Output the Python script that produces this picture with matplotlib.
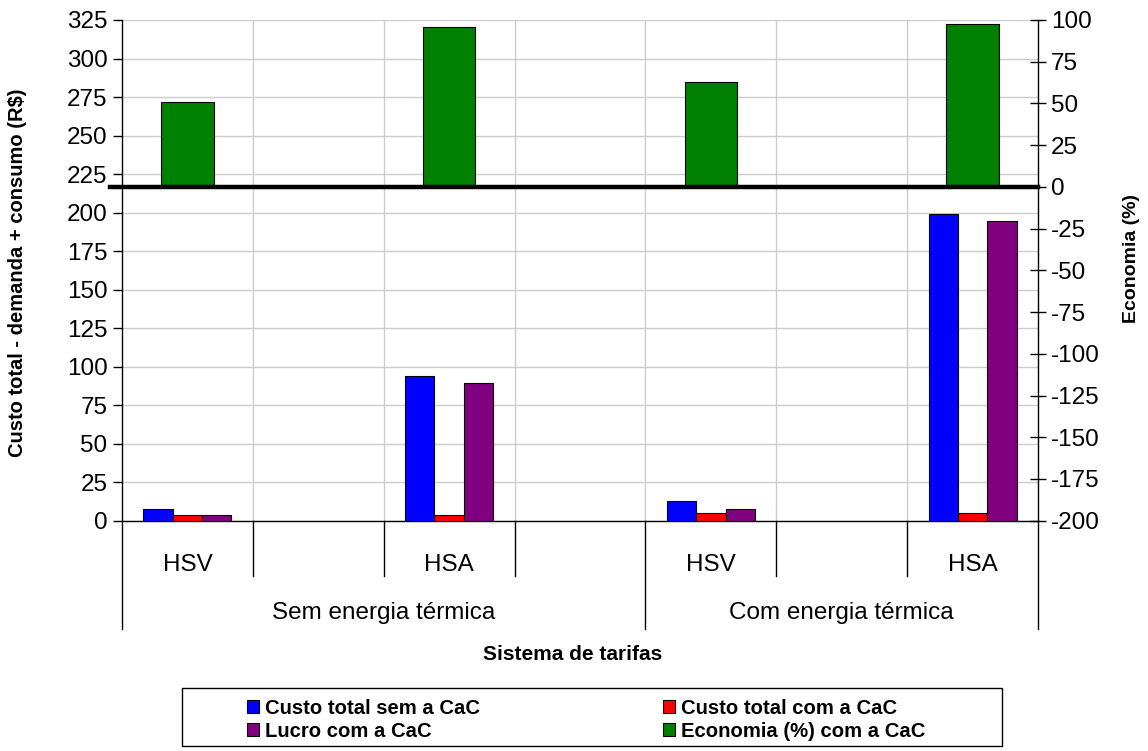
import matplotlib
matplotlib.use("Agg")
import matplotlib.pyplot as plt
from matplotlib.patches import Rectangle, Patch
import numpy as np

plt.rcParams['font.family'] = ['Liberation Sans', 'DejaVu Sans']
plt.rcParams['axes.unicode_minus'] = False

# ---- data ----
categories = ["HSV", "", "HSA", "", "HSV", "", "HSA"]
groups = ["Sem energia térmica", "Com energia térmica"]
group_spans = [(0, 3), (4, 6)]
custo_sem = [7.6, 93.6, 12.6, 199.2]
custo_com = [3.7, 3.9, 4.8, 4.8]
lucro = [3.9, 89.7, 7.8, 194.4]
economia = [51.0, 95.8, 63.0, 97.6]
series_names = ["Custo total sem a CaC", "Custo total com a CaC",
                "Lucro com a CaC", "Economia (%) com a CaC"]
left_ticks = list(range(0, 326, 25))
right_ticks = list(range(-200, 101, 25))

W, H = 1148, 751
fig = plt.figure(figsize=(W / 100, H / 100), dpi=100)
L, R, T, B = 122, 1038, 20, 520.7
ax = fig.add_axes([L / W, 1 - B / H, (R - L) / W, (B - T) / H])
ax2 = ax.twinx()

pos = np.array([i for i, c in enumerate(categories) if c])
bw = 0.224
c_blue, c_red, c_purple, c_green = "#0000FF", "#FF0000", "#800080", "#008000"
b1 = ax.bar(pos - bw, custo_sem, bw, color=c_blue, edgecolor="black", lw=0.8, zorder=3)
b2 = ax.bar(pos, custo_com, bw, color=c_red, edgecolor="black", lw=0.8, zorder=3)
b3 = ax.bar(pos + bw, lucro, bw, color=c_purple, edgecolor="black", lw=0.8, zorder=3)
b4 = ax2.bar(pos, economia, 0.40, color=c_green, edgecolor="black", lw=0.8, zorder=3)

n = len(categories)
ax.set_xlim(-0.5, n - 0.5)
ax.set_ylim(0, 325)
ax.set_yticks(left_ticks)
ax2.set_ylim(-200, 100)
ax2.set_yticks(right_ticks)
ax.set_xticks([])

# grid
ax.set_axisbelow(True)
ax.yaxis.grid(True, color="#cccccc", lw=1.0, zorder=0)
for xb in np.arange(0.5, n - 0.5, 1.0):
    ax.axvline(xb, color="#cccccc", lw=1.0, zorder=0)

# spines
for sp in ["top"]:
    ax.spines[sp].set_visible(False)
    ax2.spines[sp].set_visible(False)
ax2.spines["left"].set_visible(False)
ax2.spines["bottom"].set_visible(False)
ax.spines["right"].set_visible(False)
for a in (ax, ax2):
    for sp in a.spines.values():
        sp.set_color("black")
        sp.set_linewidth(1.0)

ax.tick_params(axis="y", direction="out", length=6.5, width=1.0, labelsize=17.5, pad=4)
ax2.tick_params(axis="y", direction="inout", length=11, width=1.0, labelsize=17.5, pad=4)

# thick zero line of secondary axis
ax2.plot([-0.59, n - 0.5], [0, 0], color="black", lw=3.2, clip_on=False, zorder=4)

# category axis
tr = ax.get_xaxis_transform()
ah = B - T
for xb in np.arange(0.5, n - 0.5, 1.0):
    if any(abs(xb - (e + 0.5)) < 1e-6 for s, e in group_spans[:-1]):
        continue
    ax.plot([xb, xb], [0, -(576 - B) / ah], color="black", lw=1.0, transform=tr, clip_on=False)
for xb in [-0.5] + [e + 0.5 for s, e in group_spans]:
    ax.plot([xb, xb], [0, -(629 - B) / ah], color="black", lw=1.0, transform=tr, clip_on=False)
for i, c in enumerate(categories):
    if c:
        ax.text(i, -(565 - B) / ah, c, transform=tr, ha="center", va="center", fontsize=17.5)
for g, (s, e) in zip(groups, group_spans):
    ax.text((s + e) / 2, -(613 - B) / ah, g, transform=tr, ha="center", va="center", fontsize=17.5)

fig.text(573 / W, 1 - 655 / H, "Sistema de tarifas", ha="center", va="center",
         fontsize=15, fontweight="bold")
fig.text(18 / W, 1 - 273 / H, "Custo total - demanda + consumo (R$)", ha="center", va="center",
         rotation=90, fontsize=14.5, fontweight="bold")
fig.text(1131 / W, 1 - 258 / H, "Economia (%)", ha="center", va="center",
         rotation=90, fontsize=14, fontweight="bold")

# legend
fig.patches.append(Rectangle((182 / W, 1 - 746 / H), 820 / W, 58 / H, transform=fig.transFigure,
                             fill=False, edgecolor="black", lw=1.0))
handles = [Patch(facecolor=c, edgecolor="black", lw=0.8) for c in (c_blue, c_red, c_purple, c_green)]
order = [0, 2, 1, 3]
leg = fig.legend([handles[i] for i in order], [series_names[i] for i in order], ncol=2,
                 loc="center", bbox_to_anchor=(586 / W, 1 - 720 / H), frameon=False,
                 prop={"weight": "bold", "size": 14.6},
                 handlelength=0.6, handleheight=0.6, handletextpad=0.3, columnspacing=9.0,
                 labelspacing=0.2)

fig.savefig("out.png", dpi=100)
